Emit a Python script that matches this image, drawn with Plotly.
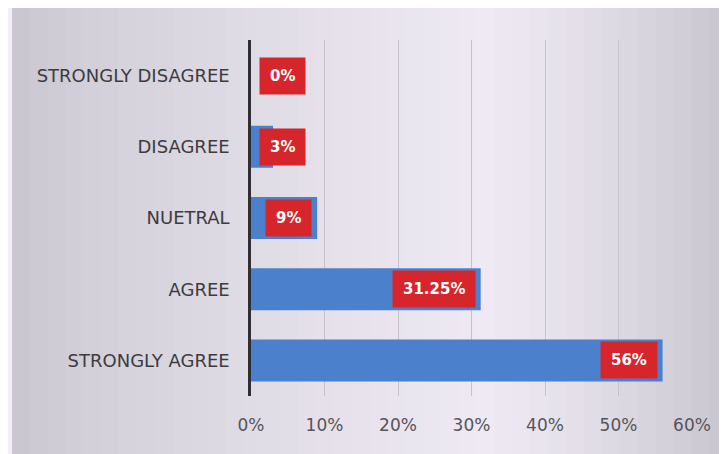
import plotly.graph_objects as go

categories = ["STRONGLY DISAGREE", "DISAGREE", "NUETRAL", "AGREE", "STRONGLY AGREE"]
values = [0.0, 0.03, 0.09, 0.3125, 0.56]
labels = ["0%", "3%", "9%", "31.25%", "56%"]
tick_vals = [0, 0.1, 0.2, 0.3, 0.4, 0.5, 0.6]
tick_text = ["0%", "10%", "20%", "30%", "40%", "50%", "60%"]

BAR = "#4a80cc"
RED = "#d7262b"
FONT = "DejaVu Sans"

# approximate bold glyph widths (em) for sizing the label boxes
CW = {".": 0.38, "%": 1.0}
def text_w(t, size):
    return sum(CW.get(ch, 0.696) for ch in t) * size

# page body has an 8px margin; figure is sized to fill the rest of the window
W, H = 719, 446
L, R_ = 243, 684
T, B = 32, 388

fig = go.Figure()
fig.add_trace(go.Bar(
    x=values, y=categories, orientation="h",
    marker=dict(color=BAR, line=dict(width=0)),
    width=0.59, hoverinfo="skip", showlegend=False,
))

LBL_SIZE = 15
for cat, v, t in zip(categories, values, labels):
    small = v < 0.05
    fig.add_annotation(
        x=0 if small else v, y=cat, xref="x", yref="y",
        xanchor="left" if small else "right", yanchor="middle",
        xshift=8 if small else -5,
        text="<b>%s</b>" % t, showarrow=False,
        font=dict(family=FONT, size=LBL_SIZE, color="white"),
        bgcolor=RED, borderpad=4, width=text_w(t, LBL_SIZE) + 12, height=28,
        align="center",
    )

# background gradient (decoration)
def px2x(p):
    return (p - L) / (R_ - L)
def py2y(p):
    return 1 - (p - T) / (B - T)
def lerp(c1, c2, f):
    return tuple(int(round(a + (b - a) * f)) for a, b in zip(c1, c2))

dark = (200, 197, 206)
light = (238, 233, 242)
n = 40
x0p, x1p = 4, W
peak = 470
for i in range(n):
    a = x0p + (x1p - x0p) * i / n
    b = x0p + (x1p - x0p) * (i + 1) / n + 1
    mid = (a + b) / 2
    if mid < peak:
        f = ((mid - x0p) / (peak - x0p)) ** 0.7
    else:
        f = 1 - ((mid - peak) / (x1p - peak)) ** 1.4
    c = lerp(dark, light, max(0, min(1, f)))
    fig.add_shape(type="rect", xref="paper", yref="paper",
                  x0=px2x(a), x1=px2x(b), y0=py2y(H), y1=py2y(0),
                  fillcolor="rgb(%d,%d,%d)" % c, line=dict(width=0), layer="below")

fig.update_layout(
    width=W, height=H,
    margin=dict(l=L, r=W - R_, t=T, b=H - B),
    paper_bgcolor="#f4eff7",
    plot_bgcolor="rgba(0,0,0,0)",
    bargap=0.41,
    font=dict(family=FONT),
)
fig.update_xaxes(
    range=[0, 0.6], tickvals=tick_vals, ticktext=tick_text,
    showgrid=True, gridcolor="#c6c2cb", gridwidth=1,
    zeroline=False, showline=False, ticks="",
    tickfont=dict(family=FONT, size=17, color="#55555a"),
    ticklabelstandoff=17, fixedrange=True,
)
fig.update_yaxes(
    categoryorder="array", categoryarray=categories, autorange="reversed",
    showgrid=False, zeroline=False,
    showline=True, linecolor="#2e2e33", linewidth=2.5,
    ticks="", ticklabelstandoff=15,
    tickfont=dict(family=FONT, size=18, color="#3c3c40"),
)

fig.write_html("out.html")
